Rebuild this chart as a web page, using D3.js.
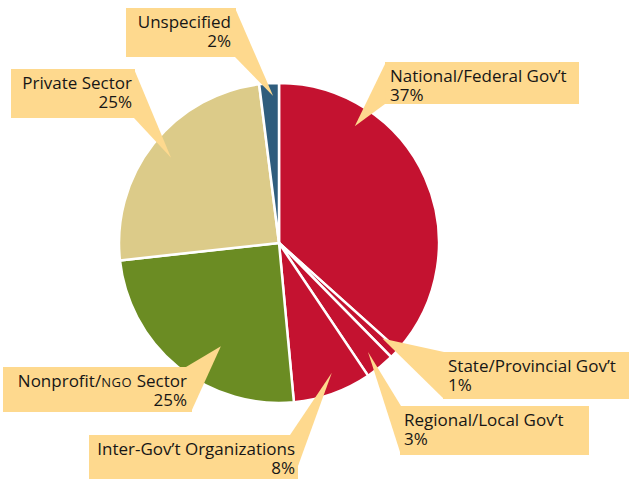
<!DOCTYPE html>
<html>
<head>
<meta charset="utf-8">
<script src="https://cdn.jsdelivr.net/npm/d3@7"></script>
<style>
  body { margin: 0; background: #fff; }
  text { font-family: "Open Sans", "Noto Sans", sans-serif; font-size: 17px; fill: #161616; }
</style>
</head>
<body>
<svg id="chart"></svg>
<script>
const categories = ['National/Federal Gov\u2019t', 'State/Provincial Gov\u2019t', 'Regional/Local Gov\u2019t',
  'Inter-Gov\u2019t Organizations', 'Nonprofit/NGO Sector', 'Private Sector', 'Unspecified'];
const values = [37, 1, 3, 8, 25, 25, 2];
const percentLabels = ['37%', '1%', '3%', '8%', '25%', '25%', '2%'];
const colors = ['#c41230', '#c41230', '#c41230', '#c41230', '#6b8c23', '#dccb89', '#2f5d7d'];

// callout layout: box, text side, pointer base, and where the tip sits inside its slice
const callouts = [
  { box: [385, 62, 194, 42], align: 'start', tx: 390, base: [[386, 62], [385, 104]], tip: [0.25, 0.87] },
  { box: [443, 352, 190, 47], align: 'start', tx: 448, base: [[444, 352], [444, 399]], tip: [0.25, 0.88] },
  { box: [400, 406, 189, 49], align: 'start', tx: 404, base: [[401, 406], [401, 455]], tip: [0.5, 0.88] },
  { box: [89, 435, 209, 50], align: 'end', tx: 295, base: [[290, 435], [298, 466]], tip: [0.41, 0.875] },
  { box: [3, 367, 189, 45], align: 'end', tx: 187, base: [[186, 367], [191, 412]], tip: [0.39, 0.74] },
  { box: [11, 69, 124, 49], align: 'end', tx: 132, base: [[134, 69], [134, 118]], tip: [0.5, 0.86] },
  { box: [126, 8, 110, 49], align: 'end', tx: 231, base: [[235, 8], [235, 57]], tip: [0.68, 0.92] }
];

const width = 629, height = 479;
const cx = 279, cy = 243, radius = 160;

const svg = d3.select('#chart').attr('width', width).attr('height', height);

const pie = d3.pie().sort(null).value(d => d);
const arcs = pie(values);
const arc = d3.arc().innerRadius(0).outerRadius(radius);

const g = svg.append('g').attr('transform', `translate(${cx},${cy})`);
g.selectAll('path.slice')
  .data(arcs)
  .enter()
  .append('path')
  .attr('class', 'slice')
  .attr('d', arc)
  .attr('fill', (d, i) => colors[i])
  .attr('stroke', '#fff')
  .attr('stroke-width', 2.5)
  .attr('stroke-linejoin', 'round');

function tipPoint(d, t) {
  const a = d.startAngle + (d.endAngle - d.startAngle) * t[0];
  const r = radius * t[1];
  return [cx + r * Math.sin(a), cy - r * Math.cos(a)];
}

const boxFill = '#fed98e';
const labels = svg.append('g');
callouts.forEach((c, i) => {
  const tip = tipPoint(arcs[i], c.tip);
  labels.append('rect')
    .attr('x', c.box[0]).attr('y', c.box[1])
    .attr('width', c.box[2]).attr('height', c.box[3])
    .attr('fill', boxFill);
  labels.append('path')
    .attr('d', d3.line()([c.base[0], tip, c.base[1]]) + 'Z')
    .attr('fill', boxFill);

  // both lines in one text element
  const t = labels.append('text')
    .attr('x', c.tx).attr('y', c.box[1] + 20)
    .attr('text-anchor', c.align);
  if (categories[i].includes('NGO')) {
    const parts = categories[i].split('NGO');
    t.append('tspan').text(parts[0]);
    t.append('tspan').style('font-size', '13px').style('letter-spacing', '0.6px').text('NGO');
    t.append('tspan').text(parts[1]);
  } else {
    t.append('tspan').text(categories[i]);
  }
  t.append('tspan')
    .attr('x', c.tx).attr('dy', 19)
    .text(percentLabels[i]);
});
</script>
</body>
</html>
